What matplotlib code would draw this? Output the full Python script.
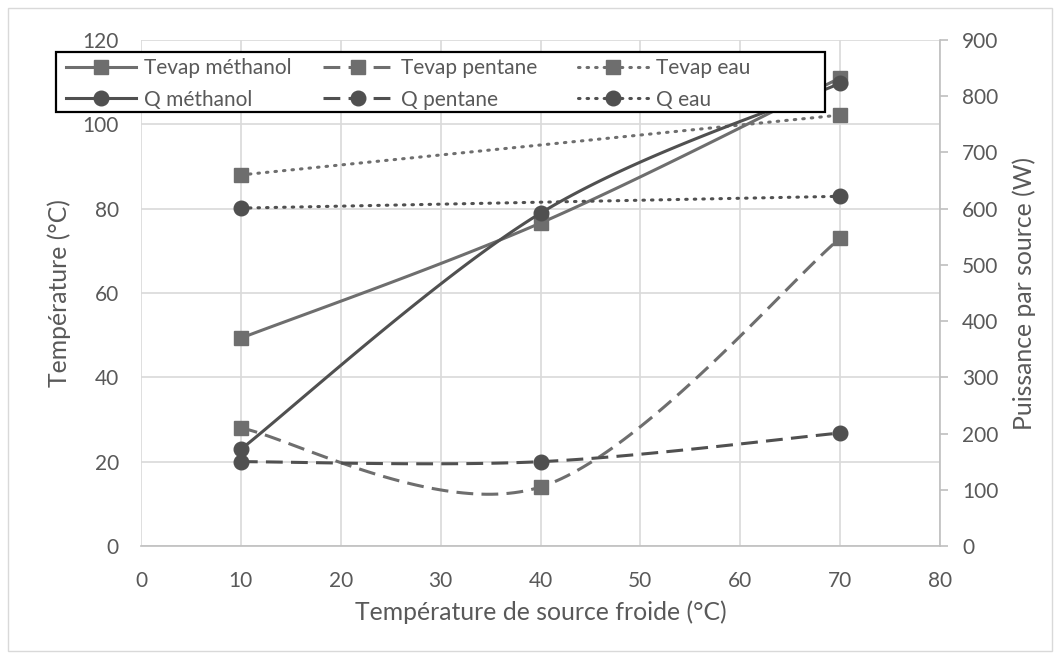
import numpy as np
import matplotlib
matplotlib.use("Agg")
import matplotlib.pyplot as plt
from matplotlib.lines import Line2D
from matplotlib.patches import Rectangle

x_vals = [10, 40, 70]
x_eau = [10, 70]
tevap_methanol = [49.3, 76.6, 111.0]
tevap_pentane = [28.0, 14.0, 73.0]
tevap_eau = [88.0, 102.2]
q_methanol = [172, 592, 823]
q_pentane = [150, 150, 201]
q_eau = [601, 622]

x_ticks = [0, 10, 20, 30, 40, 50, 60, 70, 80]
left_ticks = [0, 20, 40, 60, 80, 100, 120]
right_ticks = [0, 100, 200, 300, 400, 500, 600, 700, 800, 900]

plt.rcParams['font.family'] = ['Lato', 'DejaVu Sans']
TXT = '#595959'
C_T = '#6e6e6e'
C_Q = '#505050'
W, H = 1061, 659


def smooth(xs, ys, n=60):
    xs = np.asarray(xs, float); ys = np.asarray(ys, float)
    if len(xs) < 3:
        return xs, ys
    P = np.column_stack([xs, ys])
    out = []
    for i in range(len(P) - 1):
        p0 = P[i - 1] if i > 0 else P[i]
        p1 = P[i]; p2 = P[i + 1]
        p3 = P[i + 2] if i + 2 < len(P) else P[i + 1]
        c1 = p1 + (p2 - p0) / 6.0
        c2 = p2 - (p3 - p1) / 6.0
        t = np.linspace(0, 1, n)[:, None]
        seg = (1 - t) ** 3 * p1 + 3 * (1 - t) ** 2 * t * c1 + 3 * (1 - t) * t ** 2 * c2 + t ** 3 * p2
        out.append(seg if i == 0 else seg[1:])
    S = np.vstack(out)
    return S[:, 0], S[:, 1]


fig = plt.figure(figsize=(W / 100, H / 100), dpi=100)
fig.patches.append(Rectangle((8 / W, 8 / H), (1052 - 8) / W, (651 - 8) / H, transform=fig.transFigure,
                             fill=False, edgecolor='#d9d9d9', linewidth=1))
ax = fig.add_axes([141 / W, 1 - 546 / H, (940 - 141) / W, (546 - 40) / H])
ax2 = ax.twinx()

lw = 2.2
MS_S, MS_O = 10.5, 10.5
styles = {'solid': '-', 'dash': (0, (5.5, 2.7)), 'dot': (0, (0.5, 2.3))}


def draw(a, xs, ys, color, ls, marker):
    sx, sy = smooth(xs, ys)
    cap = 'round' if ls == 'dot' else 'butt'
    a.plot(sx, sy, color=color, lw=lw, linestyle=styles[ls], dash_capstyle=cap, zorder=3)
    a.plot(xs, ys, linestyle='none', marker=marker, color=color,
           markersize=MS_S if marker == 's' else MS_O, zorder=4)


draw(ax, x_vals, tevap_methanol, C_T, 'solid', 's')
draw(ax, x_vals, tevap_pentane, C_T, 'dash', 's')
draw(ax, x_eau, tevap_eau, C_T, 'dot', 's')
draw(ax2, x_vals, q_methanol, C_Q, 'solid', 'o')
draw(ax2, x_vals, q_pentane, C_Q, 'dash', 'o')
draw(ax2, x_eau, q_eau, C_Q, 'dot', 'o')

ax.set_xlim(0, 80)
ax.set_ylim(0, 120)
ax2.set_ylim(0, 900)
ax.set_xticks(x_ticks)
ax.set_yticks(left_ticks)
ax2.set_yticks(right_ticks)
ax.grid(True, color='#d9d9d9', linewidth=1.2)
ax.set_axisbelow(True)
for s in ['top', 'left', 'right']:
    ax.spines[s].set_visible(False)
for s in ['top', 'left', 'bottom']:
    ax2.spines[s].set_visible(False)
ax.spines['bottom'].set_color('#bfbfbf')
ax.spines['bottom'].set_linewidth(1.2)
ax2.spines['right'].set_color('#bfbfbf')
ax2.spines['right'].set_linewidth(1.2)

TICK_FS = 15
TITLE_FS = 17.8
ax.tick_params(axis='y', length=0, labelsize=TICK_FS, labelcolor=TXT, pad=16)
ax.tick_params(axis='x', length=0, labelsize=TICK_FS, labelcolor=TXT, pad=18)
ax2.tick_params(axis='y', length=6, width=1.2, color='#bfbfbf', labelsize=TICK_FS, labelcolor=TXT, pad=10)
ax.set_xlabel('Température de source froide (°C)', fontsize=TITLE_FS, color=TXT, labelpad=7)
ax.set_ylabel('Température (°C)', fontsize=TITLE_FS, color=TXT, labelpad=8)
ax2.set_ylabel('Puissance par source (W)', fontsize=TITLE_FS, color=TXT, labelpad=10)


def h(color, ls, marker):
    return Line2D([0], [0], color=color, lw=lw, linestyle=styles[ls], marker=marker,
                  markersize=MS_S if marker == 's' else MS_O,
                  dash_capstyle='round' if ls == 'dot' else 'butt')


# legend frame (Excel style, equal column widths), drawn above the plot lines
frame = Rectangle((56 / W, 1 - 112 / H), (825 - 56) / W, (112 - 52) / H,
                  transform=fig.transFigure, fill=True, facecolor='white',
                  edgecolor='black', linewidth=1.6, zorder=20, clip_on=False)
ax2.add_artist(frame)
LEG_FS = 15
cols = [
    ([h(C_T, 'solid', 's'), h(C_Q, 'solid', 'o')], ['Tevap méthanol', 'Q méthanol'], 66),
    ([h(C_T, 'dash', 's'), h(C_Q, 'dash', 'o')], ['Tevap pentane', 'Q pentane'], 323),
    ([h(C_T, 'dot', 's'), h(C_Q, 'dot', 'o')], ['Tevap eau', 'Q eau'], 578),
]
for hs, ls_, x0 in cols:
    lg = fig.legend(hs, ls_, loc='upper left', bbox_to_anchor=(x0 / W, 1 - 58 / H),
                    bbox_transform=fig.transFigure, frameon=False, fontsize=LEG_FS,
                    handlelength=3.37, handletextpad=0.38, labelspacing=0.56,
                    borderpad=0, borderaxespad=0)
    for t in lg.get_texts():
        t.set_color(TXT)
    lg.set_zorder(30)

fig.savefig('out.png', dpi=100)
